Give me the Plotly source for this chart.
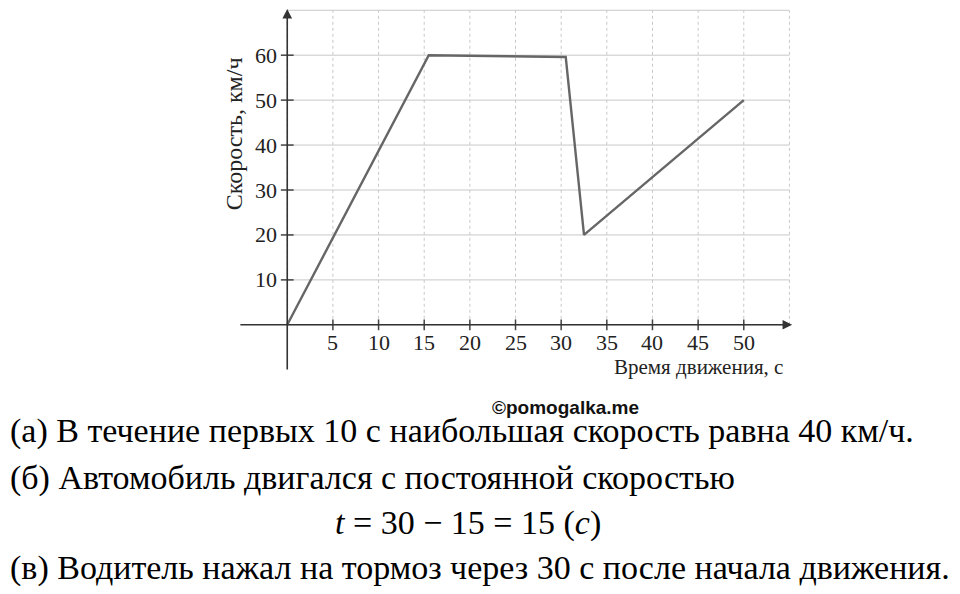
import plotly.graph_objects as go

t = [0, 15.5, 30.5, 32.5, 50]
v = [0, 60, 59.6, 20, 50]
x_ticks = [5, 10, 15, 20, 25, 30, 35, 40, 45, 50]
y_ticks = [10, 20, 30, 40, 50, 60]
grid_x = [0, 5, 10, 15, 20, 25, 30, 35, 40, 45, 50, 55]
grid_y = [0, 10, 20, 30, 40, 50, 60, 70]
lines = ["(а) В течение первых 10 с наибольшая скорость равна 40 км/ч.",
         "(б) Автомобиль двигался с постоянной скоростью",
         "(в) Водитель нажал на тормоз через 30 с после начала движения."]

SERIF = "Liberation Serif"
fig = go.Figure()
shapes = []
for gx in grid_x:
    shapes.append(dict(type="line", x0=gx, x1=gx, y0=0, y1=70, xref="x", yref="y",
                       line=dict(color="#c8c8c8", width=1, dash="dot"), layer="below"))
for gy in grid_y:
    shapes.append(dict(type="line", x0=0, x1=55, y0=gy, y1=gy, xref="x", yref="y",
                       line=dict(color="#c8c8c8", width=1), layer="below"))
for xt in x_ticks:
    shapes.append(dict(type="line", x0=xt, x1=xt, y0=-1.2, y1=1.2, xref="x", yref="y",
                       line=dict(color="#444", width=1.5)))
for yt in y_ticks:
    shapes.append(dict(type="line", x0=-0.7, x1=0.7, y0=yt, y1=yt, xref="x", yref="y",
                       line=dict(color="#444", width=1.5)))
fig.add_trace(go.Scatter(x=t, y=v, mode="lines", line=dict(color="#666", width=2.4),
                         hoverinfo="skip", showlegend=False))
ann = []
ann.append(dict(x=55.3, y=0, ax=-5.3, ay=0, xref="x", yref="y", axref="x", ayref="y",
                showarrow=True, arrowhead=2, arrowsize=1.2, arrowwidth=1.6, arrowcolor="#333", text=""))
ann.append(dict(x=0, y=70.3, ax=0, ay=-10.3, xref="x", yref="y", axref="x", ayref="y",
                showarrow=True, arrowhead=2, arrowsize=1.2, arrowwidth=1.6, arrowcolor="#333", text=""))
for xt in x_ticks:
    ann.append(dict(x=xt, y=-4, xref="x", yref="y", text=str(xt), showarrow=False,
                    font=dict(family=SERIF, size=22, color="#222")))
for yt in y_ticks:
    ann.append(dict(x=-0.9, y=yt, xref="x", yref="y", text=str(yt), showarrow=False, xanchor="right",
                    font=dict(family=SERIF, size=22, color="#222")))
ann.append(dict(x=54.5, y=-9.3, xref="x", yref="y", text="Время движения, с", showarrow=False,
                xanchor="right", font=dict(family=SERIF, size=21, color="#222")))
ann.append(dict(x=-5.9, y=42.5, xref="x", yref="y", text="Скорость, км/ч", showarrow=False,
                textangle=-90, font=dict(family=SERIF, size=24, color="#222")))
ann.append(dict(x=557, y=594-412, xref="paper", yref="paper", text="<b>©pomogalka.me</b>", showarrow=False,
                font=dict(family="Liberation Sans", size=19, color="#111")))
ys = [594-423, 594-470, 594-560]
for txt, yy in zip(lines, ys):
    ann.append(dict(x=0, y=yy, xref="paper", yref="paper", text=txt, showarrow=False, xanchor="left",
                    yanchor="middle", font=dict(family=SERIF, size=34, color="#000")))
ann.append(dict(x=460, y=594-515, xref="paper", yref="paper",
                text="<i>t</i> = 30 − 15 = 15 (<i>c</i>)", showarrow=False, yanchor="middle",
                font=dict(family=SERIF, size=34, color="#000")))
for a in ann:
    if a.get("xref") == "paper":
        a["x"] = a["x"] / 960
        a["y"] = a["y"] / 594
fig.update_layout(width=960, height=594, margin=dict(l=0, r=0, t=0, b=0),
                  paper_bgcolor="white", plot_bgcolor="white",
                  shapes=shapes, annotations=ann)
fig.update_xaxes(range=[-6.5, 55.5], domain=[219.9/960, 786/960], visible=False)
fig.update_yaxes(range=[-10.5, 70.5], domain=[1-364/594, 1], visible=False)
fig.write_html("out.html")
